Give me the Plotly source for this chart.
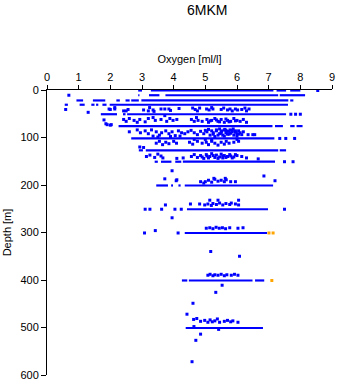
import plotly.graph_objects as go

# Standard-depth rows: depth [m] and the oxygen ranges [ml/l] densely covered by samples
row_depths = [1, 11, 22, 31, 51, 76, 102, 127, 151, 201, 251, 301, 401, 501]
row_ranges = [
    [(2.88, 3.0), (3.28, 7.15), (7.25, 7.55), (7.68, 8.0)],
    [(2.88, 2.92), (3.22, 3.55), (3.74, 7.3), (7.35, 8.15)],
    [(0.93, 1.14), (1.45, 1.84), (2.19, 2.3), (2.48, 2.61), (2.66, 2.9), (2.98, 7.62), (7.68, 7.78)],
    [(0.56, 0.66), (1.03, 1.19), (1.4, 1.5), (1.55, 1.62), (1.75, 1.88), (1.98, 7.61)],
    [(1.7, 2.21), (2.4, 2.48), (2.53, 7.55)],
    [(2.26, 7.12), (7.2, 7.45), (7.68, 7.82), (7.88, 8.07)],
    [(2.66, 7.18)],
    [(2.9, 3.03), (3.12, 7.3), (7.35, 7.55)],
    [(3.4, 3.5), (3.6, 3.93), (4.05, 4.24), (4.29, 7.2)],
    [(3.45, 3.82), (3.92, 3.98), (4.15, 4.22), (4.35, 7.14)],
    [(4.42, 6.98)],
    [(4.35, 6.95)],
    [(4.26, 4.43), (4.48, 6.49), (6.57, 6.86)],
    [(4.38, 6.82)],
]

# Individual samples (oxygen, depth)
oxygen = [
    8.55, 0.69, 7.7, 7.85, 8.0, 7.35, 7.54, 7.82, 7.5, 7.77,
    3.1, 3.25, 3.62, 4.04, 4.24, 7.5, 3.08, 4.14, 3.42,
    # 35-48 m
    0.59, 1.3, 1.96, 2.14, 2.14, 2.42, 2.5, 2.56, 3.05, 3.24, 3.2, 3.35, 3.38, 3.6, 3.72, 3.85,
    3.9, 4.17, 4.6, 4.68, 4.75, 4.82, 5.04, 5.12, 5.2, 5.24, 5.5, 5.58, 5.7, 5.78, 5.85, 5.95,
    6.02, 6.15, 6.25, 6.38, 6.3, 2.0,
    # 55-74 m
    1.8, 1.86, 2.0, 2.42, 2.5, 2.6, 2.75, 2.93, 3.2, 3.35, 3.42, 3.6, 3.72, 3.78, 3.88, 3.98,
    4.1, 4.56, 4.65, 4.72, 4.77, 4.9, 5.05, 5.1, 5.2, 5.3, 5.4, 5.5, 5.6, 5.7, 5.8, 5.9, 6.0,
    6.1, 6.2, 6.3, 3.1, 2.85, 1.9, 2.03, 5.15, 5.35, 5.45, 5.65, 5.75, 5.95,
    # 80-99 m
    2.6, 2.85, 2.95, 3.1, 3.2, 3.3, 3.45, 3.55, 3.62, 3.75, 3.85, 3.95, 4.05, 4.15, 4.25, 4.35,
    4.45, 4.55, 4.65, 4.75, 4.85, 4.95, 5.05, 5.15, 5.25, 5.35, 5.45, 5.5, 5.55, 5.6, 5.65, 5.7,
    5.75, 5.8, 5.85, 5.9, 5.95, 6.0, 6.05, 6.1, 6.15, 6.2, 6.35, 6.5, 6.56, 3.35, 3.5, 3.9, 4.2,
    5.3, 5.6, 6.0, 5.45, 5.62, 5.78, 5.88, 5.52, 5.68,
    5.1, 5.2, 5.35, 5.5, 5.65, 5.75, 5.85, 5.95, 6.05, 5.4, 5.25, 5.0,
    # 103-121 m
    3.45, 3.55, 3.65, 3.75, 3.85, 4.0, 4.09, 4.5, 4.6, 4.75, 4.9, 5.03, 5.1, 5.2, 5.3, 5.4, 5.5,
    5.6, 5.66, 5.75, 5.9, 6.05, 2.93, 3.05, 4.65, 5.0, 5.2, 6.0,
    # 130-145 m
    3.14, 3.25, 3.4, 3.5, 3.6, 3.66, 4.1, 4.3, 4.56, 4.65, 4.75, 4.85, 4.95, 5.03, 5.14, 5.2,
    5.3, 5.35, 5.45, 5.5, 5.55, 5.6, 5.7, 5.77, 5.9, 6.0, 6.15, 6.67, 6.3,
    5.1, 5.25, 5.4, 5.55, 5.65, 5.8, 5.85, 5.95, 4.9, 5.05,
    # 165-196 m
    3.95, 3.72, 4.1, 5.27, 5.63, 6.85, 7.2, 4.08, 5.0, 5.1, 5.2, 5.3, 5.4, 5.5, 5.6, 5.66, 5.8,
    5.95, 4.85, 4.95,
    # 230-269 m
    5.14, 5.4, 6.05, 4.53, 4.82, 4.98, 5.08, 5.19, 5.24, 5.35, 5.45, 5.55, 5.65, 5.77, 5.82,
    5.95, 6.05, 3.74, 3.95,
    # 288-296 m
    5.03, 5.14, 5.24, 5.34, 5.44, 5.54, 5.64, 5.77, 6.03, 6.19,
    # 340-430 m
    5.17, 6.08, 5.08, 5.15, 5.24, 5.3, 5.4, 5.5, 5.6, 5.68, 5.82, 5.92, 6.03, 5.53, 5.33,
    # 449-572 m
    4.61, 4.42, 4.63, 4.73, 4.85, 4.98, 5.08, 5.15, 5.22, 5.3, 5.38, 5.45, 5.6, 5.7, 5.8, 5.87,
    6.03, 4.64, 5.42, 4.85, 4.7, 4.58,
]
depth = [
    1, 11, 51, 51, 51, 102, 102, 102, 151, 151,
    251, 251, 251, 251, 251, 251, 301, 301, 296,
    # 35-48 m
    41, 47, 40, 40, 37, 44, 44, 41, 42, 37, 44, 42, 45, 40, 40, 40,
    43, 39, 38, 41, 44, 38, 40, 42, 37, 40, 41, 38, 42, 40, 44, 40,
    42, 41, 38, 40, 44, 41,
    # 55-74 m
    63, 71, 74, 62, 66, 60, 64, 62, 60, 58, 64, 62, 54, 66, 60, 64,
    62, 62, 66, 58, 64, 66, 62, 68, 64, 60, 66, 62, 68, 64, 66, 60, 64,
    66, 62, 68, 67, 68, 73, 73, 65, 63, 67, 61, 67, 65,
    # 80-99 m
    88, 84, 90, 86, 92, 84, 88, 95, 90, 86, 92, 88, 96, 86, 90, 92,
    88, 85, 90, 94, 87, 92, 88, 95, 90, 86, 92, 88, 95, 84, 90, 93,
    87, 91, 85, 95, 89, 92, 86, 90, 94, 88, 94, 94, 94, 97, 99, 98, 97,
    98, 97, 97, 82, 83, 84, 82, 86, 87,
    83, 86, 84, 91, 85, 93, 88, 86, 93, 95, 93, 85,
    # 103-121 m
    112, 108, 115, 110, 113, 108, 112, 110, 114, 108, 112, 110, 115, 108, 112, 116, 110,
    114, 108, 112, 110, 108, 120, 121, 104, 104, 105, 104,
    # 130-145 m
    140, 137, 142, 135, 139, 143, 144, 143, 140, 136, 142, 138, 144, 136, 140, 134,
    142, 137, 141, 135, 143, 138, 140, 136, 141, 138, 140, 145, 143,
    143, 138, 144, 139, 142, 139, 143, 136, 141, 139,
    # 165-196 m
    170, 187, 189, 186, 186, 181, 191, 191, 193, 190, 194, 188, 192, 190, 193, 189, 193,
    193, 193, 196,
    # 230-269 m
    232, 232, 232, 240, 240, 242, 240, 243, 239, 241, 238, 242, 239, 241, 238,
    240, 242, 242, 269,
    # 288-296 m
    291, 290, 292, 289, 291, 290, 292, 290, 291, 290,
    # 340-430 m
    340, 350, 390, 388, 391, 389, 390, 388, 391, 389, 390, 388, 390, 411, 426,
    # 449-572 m
    449, 472, 483, 481, 487, 485, 489, 484, 488, 486, 482, 489, 487, 485, 488, 486,
    489, 498, 504, 514, 527, 572,
]

# Flagged samples (orange)
flag_oxygen = [7.01, 7.14, 7.1]
flag_depth = [301, 301, 401]

BLUE = "#0000FF"
ORANGE = "#FFA500"

seg_x, seg_y = [], []
for d, ranges in zip(row_depths, row_ranges):
    for x0, x1 in ranges:
        seg_x += [x0, x1, None]
        seg_y += [d, d, None]

fig = go.Figure()
fig.add_trace(go.Scatter(x=seg_x, y=seg_y, mode="lines",
                         line=dict(color=BLUE, width=2.2), cliponaxis=False,
                         hoverinfo="skip"))
fig.add_trace(go.Scatter(x=oxygen, y=depth, mode="markers", cliponaxis=False,
                         marker=dict(symbol="square", size=3, color=BLUE, line=dict(width=0))))
fig.add_trace(go.Scatter(x=flag_oxygen, y=flag_depth, mode="markers", cliponaxis=False,
                         marker=dict(symbol="square", size=3, color=ORANGE, line=dict(width=0))))

FONT = "Liberation Sans, Arial, sans-serif"
fig.update_layout(
    width=338, height=384,
    margin=dict(l=47, r=6, t=90, b=9),
    paper_bgcolor="white", plot_bgcolor="white",
    showlegend=False,
    font=dict(family=FONT, size=11, color="black"),
    title=dict(text="6MKM", x=190 / 338, xanchor="center", xref="paper",
               y=1 - 10 / 384, yanchor="middle", yref="container",
               font=dict(size=14, color="black", family=FONT)),
)
fig.update_xaxes(
    side="top", range=[0, 9], dtick=1, tick0=0,
    ticks="outside", ticklen=4, tickcolor="black",
    showline=True, linecolor="black", linewidth=1,
    showgrid=False, zeroline=False,
    title=dict(text="Oxygen [ml/l]", standoff=4, font=dict(size=11)),
    automargin=False,
)
fig.update_yaxes(
    range=[600, 0], dtick=100, tick0=0,
    ticks="outside", ticklen=5, tickcolor="black",
    showline=True, linecolor="black", linewidth=1,
    showgrid=False, zeroline=False,
    title=dict(text="Depth [m]", standoff=6, font=dict(size=11)),
    automargin=False,
)

fig.write_html("out.html")
